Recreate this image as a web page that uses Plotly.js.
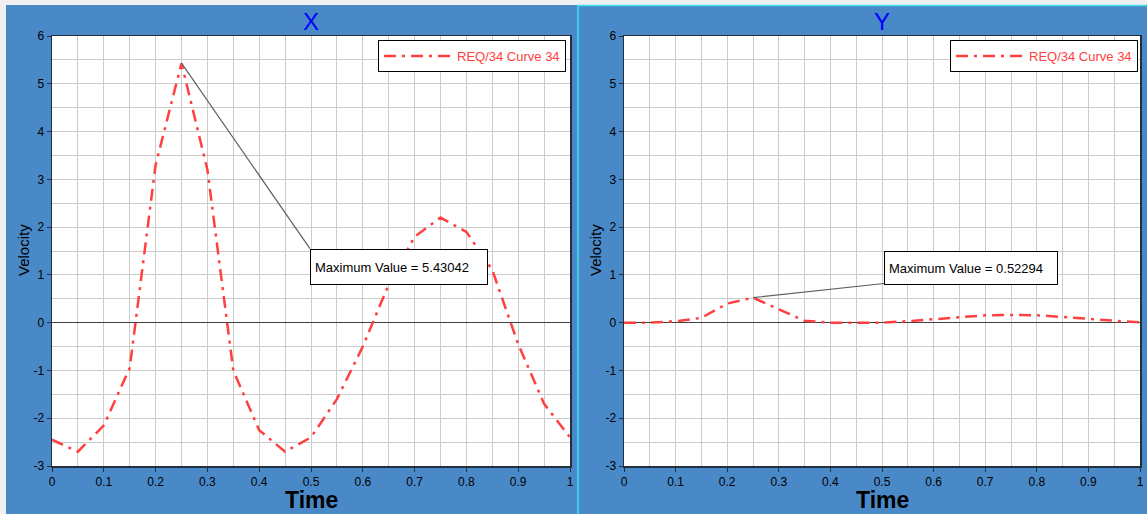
<!DOCTYPE html>
<html>
<head>
<meta charset="utf-8">
<script src="https://cdn.plot.ly/plotly-3.0.1.min.js"></script>
<style>html,body{margin:0;padding:0;background:#f0f0f0;}#chart{width:1147px;height:514px;}</style>
</head>
<body>
<div id="chart"></div>
<script>
// ---- data ----
const time = [0, 0.05, 0.1, 0.15, 0.2, 0.25, 0.3, 0.35, 0.4, 0.45, 0.5, 0.55, 0.6, 0.65, 0.7, 0.75, 0.8, 0.85, 0.9, 0.95, 1.0];
const velocityX = [-2.45, -2.7, -2.15, -0.95, 3.3, 5.43042, 3.2, -1.0, -2.25, -2.7, -2.4, -1.6, -0.5, 0.8, 1.8, 2.2, 1.9, 1.1, -0.45, -1.7, -2.4];
const velocityY = [0.0, 0.0, 0.03, 0.1, 0.4, 0.52294, 0.28, 0.04, 0.0, 0.0, 0.0, 0.03, 0.07, 0.12, 0.155, 0.16, 0.155, 0.12, 0.075, 0.04, 0.01];
const seriesName = "REQ/34 Curve 34";
const panelTitles = ["X", "Y"];
const xTitle = "Time";
const yTitle = "Velocity";
const xTickVals = [0, 0.1, 0.2, 0.3, 0.4, 0.5, 0.6, 0.7, 0.8, 0.9, 1];
const xTickLabels = ["0", "0.1", "0.2", "0.3", "0.4", "0.5", "0.6", "0.7", "0.8", "0.9", "1"];
const yTickVals = [-3, -2, -1, 0, 1, 2, 3, 4, 5, 6];
const yTickLabels = ["-3", "-2", "-1", "0", "1", "2", "3", "4", "5", "6"];
const maxLabelX = "Maximum Value = 5.43042";
const maxLabelY = "Maximum Value = 0.52294";

// ---- layout helpers (pixel -> paper) ----
const W = 1147, H = 514;
const px = v => v / W;
const py = v => 1 - v / H;
const FONT = "Liberation Sans, Arial, sans-serif";
const BLUE = "#4a89c7";
const RED = "#ff4040";
const GRAY = "#f0f0f0";

function peak(xs, ys) {
  let i = 0;
  ys.forEach((v, k) => { if (v > ys[i]) i = k; });
  return {x: xs[i], y: ys[i]};
}
const pX = peak(time, velocityX);
const pY = peak(time, velocityY);

const lineStyle = {color: RED, width: 2.5, dash: "12px,6px,3px,6px"};
const traces = [
  {x: time, y: velocityX, type: "scatter", mode: "lines", name: seriesName, line: lineStyle, xaxis: "x", yaxis: "y", legend: "legend"},
  {x: time, y: velocityY, type: "scatter", mode: "lines", name: seriesName, line: lineStyle, xaxis: "x2", yaxis: "y2", legend: "legend2"}
];

const axisLine = "#22303e";
const gridCol = "#cccccc";
function xax(dom, anchor) {
  return {
    domain: dom, anchor: anchor, range: [0, 1], tickmode: "array", tickvals: xTickVals, ticktext: xTickLabels,
    showgrid: true, gridcolor: gridCol, gridwidth: 1,
    minor: {dtick: 0.05, tick0: 0, showgrid: true, gridcolor: gridCol, gridwidth: 1},
    ticks: "outside", ticklen: 4, tickcolor: axisLine, showline: true, linecolor: axisLine, linewidth: 1.5, mirror: true,
    zeroline: false, tickfont: {family: FONT, size: 12, color: "#000"}, fixedrange: true
  };
}
function yax(anchor) {
  return {
    domain: [py(466), py(36)], anchor: anchor, range: [-3, 6], tickmode: "array", tickvals: yTickVals, ticktext: yTickLabels,
    showgrid: true, gridcolor: gridCol, gridwidth: 1,
    minor: {dtick: 0.5, tick0: 0, showgrid: true, gridcolor: gridCol, gridwidth: 1},
    ticks: "outside", ticklen: 4, tickcolor: axisLine, showline: true, linecolor: axisLine, linewidth: 1.5, mirror: true,
    zeroline: true, zerolinecolor: "#404040", zerolinewidth: 1,
    tickfont: {family: FONT, size: 12, color: "#000"}, fixedrange: true
  };
}

const legendBase = {
  xanchor: "right", yanchor: "top", bgcolor: "#ffffff", bordercolor: "#000000", borderwidth: 1,
  font: {family: FONT, size: 13, color: RED}, itemwidth: 68
};

function paperText(x, y, text, font, extra) {
  return Object.assign({xref: "paper", yref: "paper", x: px(x), y: py(y), xanchor: "center", yanchor: "middle",
    text: text, showarrow: false, font: font}, extra || {});
}

const layout = {
  width: W, height: H, margin: {l: 0, r: 0, t: 0, b: 0},
  paper_bgcolor: BLUE, plot_bgcolor: "#ffffff", showlegend: true,
  xaxis: xax([px(52), px(570)], "y"),
  yaxis: yax("x"),
  xaxis2: xax([px(624), px(1140)], "y2"),
  yaxis2: yax("x2"),
  legend: Object.assign({x: px(566), y: py(40)}, legendBase),
  legend2: Object.assign({x: px(1138), y: py(40)}, legendBase),
  shapes: [
    // light gray window strips
    {type: "rect", xref: "paper", yref: "paper", x0: 0, x1: 1, y0: py(5), y1: 1, fillcolor: GRAY, line: {width: 0}, layer: "below"},
    {type: "rect", xref: "paper", yref: "paper", x0: 0, x1: px(6), y0: 0, y1: 1, fillcolor: GRAY, line: {width: 0}, layer: "below"},
    // cyan frame of active right panel
    {type: "line", xref: "paper", yref: "paper", x0: px(578), x1: px(578), y0: 0, y1: py(5), line: {color: "#40e0f0", width: 1.5}, layer: "below"},
    {type: "line", xref: "paper", yref: "paper", x0: px(578), x1: 1, y0: py(5.5), y1: py(5.5), line: {color: "#40e0f0", width: 1.5}, layer: "below"},
    // max value leader lines
    {type: "line", xref: "x", yref: "y", x0: pX.x, y0: pX.y, x1: 0.498, y1: 1.55, line: {color: "#606060", width: 1.2}},
    {type: "line", xref: "x2", yref: "y2", x0: pY.x, y0: pY.y, x1: 0.504, y1: 0.82, line: {color: "#606060", width: 1.2}}
  ],
  annotations: [
    paperText(311, 22, panelTitles[0], {family: FONT, size: 24, color: "#0000ff"}),
    paperText(882, 22, panelTitles[1], {family: FONT, size: 24, color: "#0000ff"}),
    paperText(311, 500, "<b>" + xTitle + "</b>", {family: FONT, size: 23, color: "#000"}, {height: 22}),
    paperText(882, 500, "<b>" + xTitle + "</b>", {family: FONT, size: 23, color: "#000"}, {height: 22}),
    paperText(23, 250, yTitle, {family: FONT, size: 15, color: "#000"}, {textangle: -90}),
    paperText(595, 250, yTitle, {family: FONT, size: 15, color: "#000"}, {textangle: -90}),
    {xref: "x", yref: "y", x: 0.498, y: 1.55, xanchor: "left", yanchor: "top", text: maxLabelX, showarrow: false,
     width: 168, height: 26, borderpad: 4, borderwidth: 1, bordercolor: "#000", bgcolor: "#fff", align: "left",
     font: {family: FONT, size: 13, color: "#000"}},
    {xref: "x2", yref: "y2", x: 0.504, y: 1.51, xanchor: "left", yanchor: "top", text: maxLabelY, showarrow: false,
     width: 164, height: 24, borderpad: 4, borderwidth: 1, bordercolor: "#000", bgcolor: "#fff", align: "left",
     font: {family: FONT, size: 13, color: "#000"}}
  ]
};

Plotly.newPlot("chart", traces, layout, {displayModeBar: false, staticPlot: true});
</script>
</body>
</html>
